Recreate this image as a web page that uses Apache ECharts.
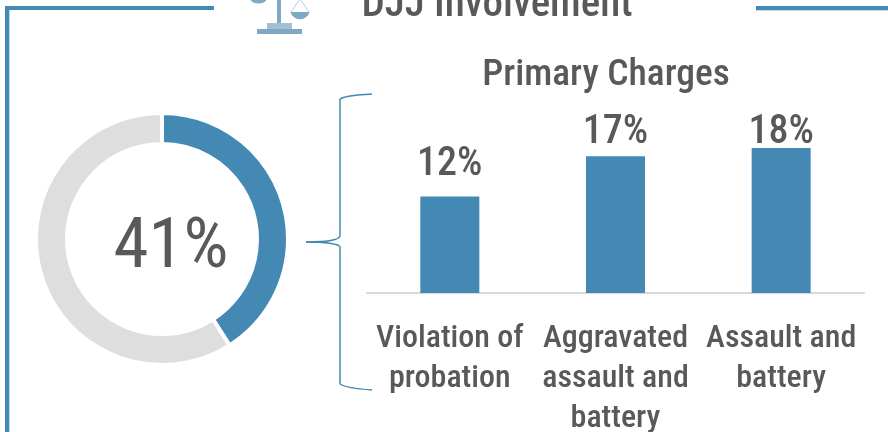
<!DOCTYPE html>
<html>
<head>
<meta charset="utf-8">
<style>
html, body { margin: 0; padding: 0; background: #fff; }
#chart { width: 888px; height: 432px; }
</style>
<script src="https://cdn.jsdelivr.net/npm/echarts@6/dist/echarts.min.js"></script>
</head>
<body>
<div id="chart"></div>
<script>
var categories = ['Violation of\nprobation', 'Aggravated\nassault and\nbattery', 'Assault and\nbattery'];
var chargeValues = [12, 17, 18];
var djjInvolved = 41;
var djjNotInvolved = 59;

var FONT = '"Roboto Condensed", "Liberation Sans", sans-serif';
var BLUE = '#4389b4';
var EDGE = '#c4dbe8';
var TEXT = '#595959';
var ICON = '#7fa9c3';
// the value labels sit unevenly above the bars in the original
var labelShift = [0, 8, 16];

function brace(x1, y1, cx1, cy1, cx2, cy2, x2, y2) {
    return { type: 'bezierCurve', shape: { x1: x1, y1: y1, cpx1: cx1, cpy1: cy1, cpx2: cx2, cpy2: cy2, x2: x2, y2: y2 }, style: { fill: 'none', stroke: BLUE, lineWidth: 1.5 } };
}
function vline(x, y1, y2) {
    return { type: 'line', shape: { x1: x, y1: y1, x2: x, y2: y2 }, style: { stroke: BLUE, lineWidth: 1.5 } };
}
function box(x, y, w, h, color) {
    return { type: 'rect', shape: { x: x, y: y, width: w, height: h }, style: { fill: color } };
}

var chart = echarts.init(document.getElementById('chart'));
chart.setOption({
    animation: false,
    backgroundColor: '#fff',
    grid: { left: 367, top: 132, width: 497, height: 161, outerBoundsMode: 'none' },
    xAxis: {
        type: 'category',
        data: categories,
        axisLine: { lineStyle: { color: '#d9d9d9', width: 2 } },
        axisTick: { show: false },
        axisLabel: { color: TEXT, fontFamily: FONT, fontWeight: 500, fontSize: 32, lineHeight: 40, margin: 26, interval: 0 }
    },
    yAxis: { type: 'value', min: 0, max: 20, show: false },
    series: [{
        type: 'pie',
        center: [162, 239],
        radius: [95, 126],
        startAngle: 90,
        clockwise: true,
        silent: true,
        label: {
            show: true,
            position: 'center',
            formatter: djjInvolved + '%',
            color: TEXT,
            fontFamily: FONT,
            fontSize: 71
        },
        labelLayout: { dx: 9, dy: 10 },
        labelLine: { show: false },
        itemStyle: { borderColor: '#fff', borderWidth: 4 },
        data: [
            { value: djjInvolved, itemStyle: { color: BLUE } },
            { value: djjNotInvolved, itemStyle: { color: '#dedede' }, label: { show: false } }
        ]
    }, {
        type: 'bar',
        data: chargeValues.map(function(v, i) {
            return { value: v, label: { offset: [0, labelShift[i]] } };
        }),
        barWidth: 59,
        itemStyle: { color: BLUE },
        label: {
            show: true,
            position: 'top',
            distance: 11,
            formatter: '{c}%',
            color: TEXT,
            fontFamily: FONT,
            fontWeight: 500,
            fontSize: 40
        }
    }],
    graphic: [
        box(5, 10, 6, 1, EDGE),
        box(9, 10, 1, 422, EDGE),
        box(5, 6, 209, 4, BLUE),
        box(5, 6, 4, 426, BLUE),
        box(756, 6, 132, 4, BLUE),
        box(756, 10, 132, 1, EDGE),
        { type: 'text', style: { text: 'DJJ Involvement', x: 497, y: 26, textAlign: 'center', textVerticalAlign: 'bottom', fill: TEXT, font: '500 41px ' + FONT } },
        { type: 'text', style: { text: 'Primary Charges', x: 606, y: 76, textAlign: 'center', textVerticalAlign: 'middle', fill: TEXT, font: '500 37.5px ' + FONT } },
        // brace
        brace(372, 94, 358, 95, 346, 95, 340, 99),
        vline(340, 99, 236),
        brace(340, 236, 339, 240, 325, 242, 306, 242),
        brace(306, 242, 325, 242, 339, 244, 340, 247),
        vline(340, 247, 384),
        brace(340, 384, 346, 388, 358, 389, 372, 390),
        // scales icon
        box(277, 0, 4, 24, ICON),
        box(267, 23, 25, 6, '#a3c0d3'),
        box(257, 29, 45, 5, ICON),
        { type: 'bezierCurve', shape: { x1: 291, y1: 12, cpx1: 293, cpy1: 21, cpx2: 307, cpy2: 21, x2: 309, y2: 12 }, style: { fill: ICON, stroke: ICON, lineWidth: 1 } },
        { type: 'polyline', shape: { points: [[291, 12], [300, -1], [309, 12]] }, style: { stroke: '#b5cddc', lineWidth: 1 } },
        { type: 'bezierCurve', shape: { x1: 251, y1: 0, cpx1: 253, cpy1: 4, cpx2: 264, cpy2: 4, x2: 266, y2: 0 }, style: { fill: ICON, stroke: ICON, lineWidth: 1 } }
    ]
});
</script>
</body>
</html>
